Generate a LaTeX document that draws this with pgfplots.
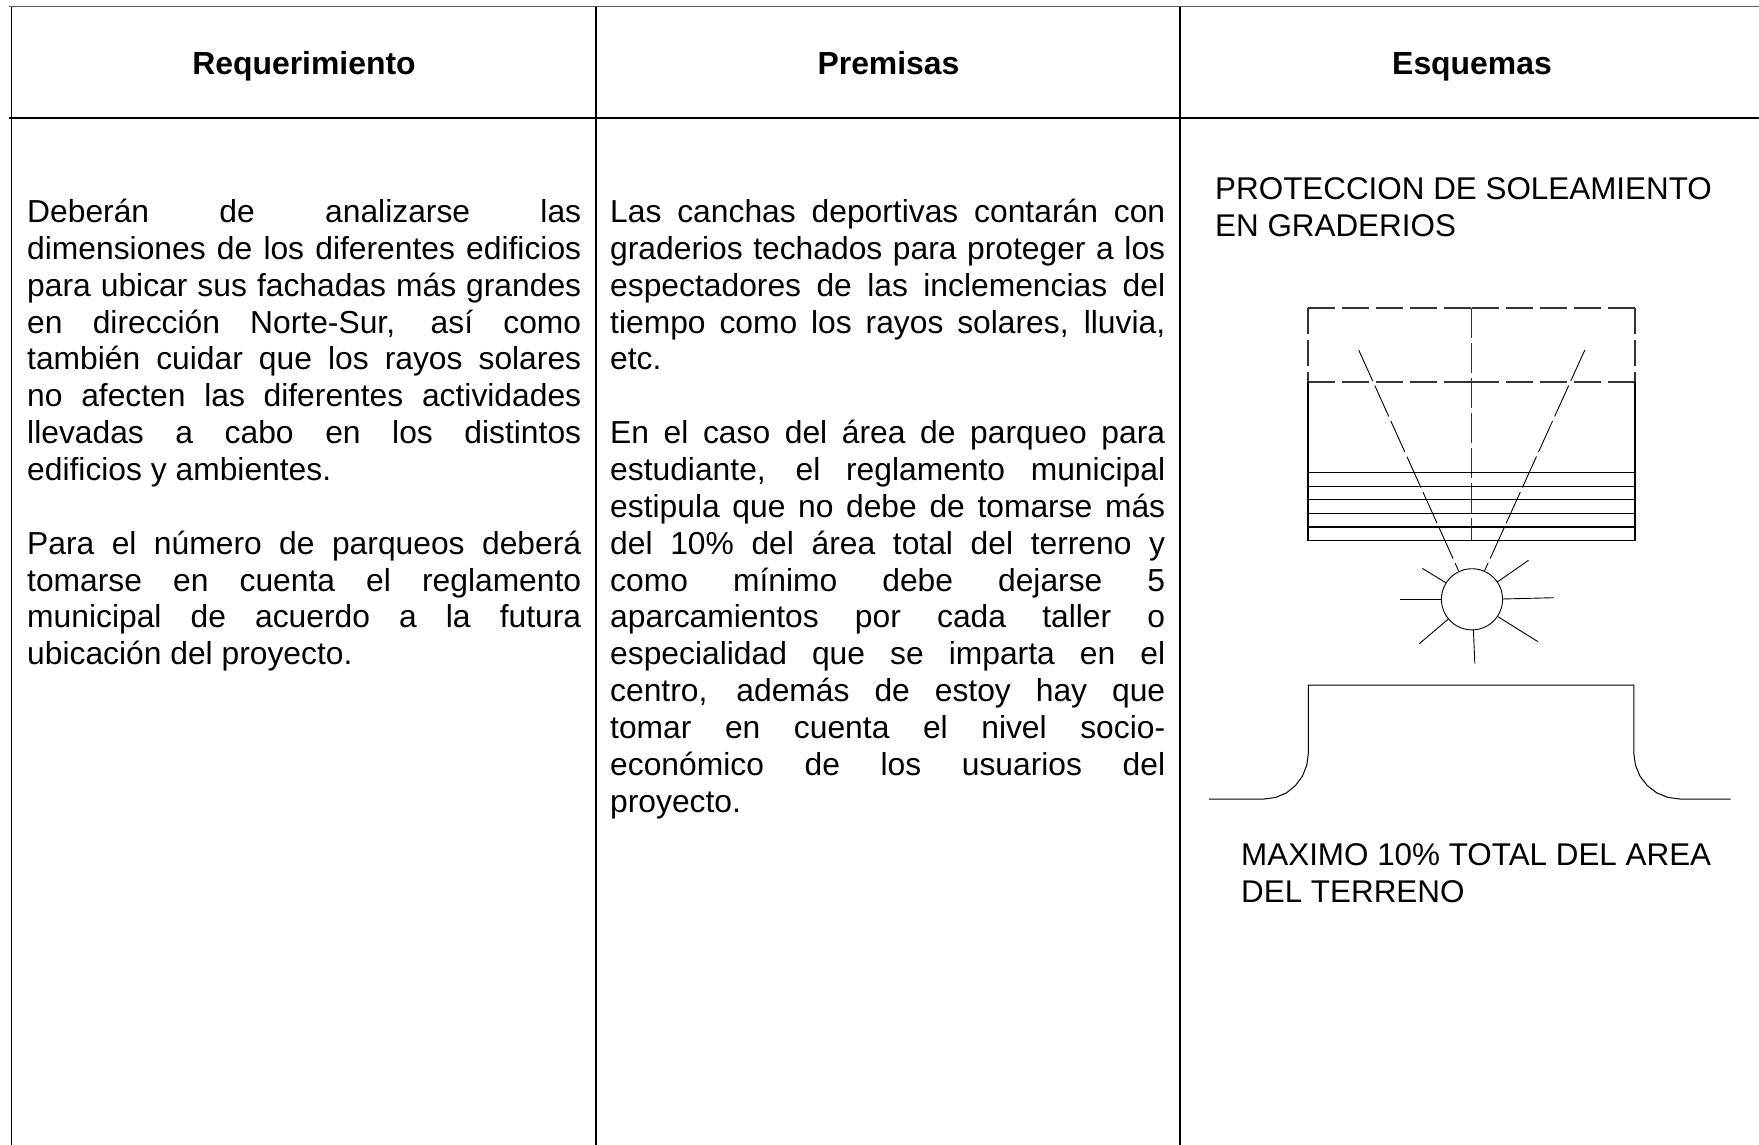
\documentclass[border=0pt]{standalone}
\usepackage{pgfplots}
\usepackage{fontspec}
\setmainfont{Liberation Sans}
\pgfplotsset{compat=1.18}
\newcommand{\fs}{\fontsize{31.8bp}{37bp}\selectfont}
\newcommand{\fc}{\fontsize{31.4bp}{37bp}\selectfont}
\newcommand{\fsb}{\fontsize{31.9bp}{37bp}\selectfont\bfseries}
\newcommand{\basey}{222.5}
\newcommand{\stepy}{36.85}
% justified line, column 1 / column 2
\newcommand{\ja}[2]{\pgfmathsetmacro{\yy}{\basey+\stepy*#1}\edef\tmp{\noexpand\node[anchor=base west,inner sep=0pt,font=\noexpand\fs] at (axis cs:27,\yy) {\noexpand\makebox[554bp][s]{#2}};}\tmp}
\newcommand{\jb}[2]{\pgfmathsetmacro{\yy}{\basey+\stepy*#1}\edef\tmp{\noexpand\node[anchor=base west,inner sep=0pt,font=\noexpand\fs] at (axis cs:610,\yy) {\noexpand\makebox[555bp][s]{#2}};}\tmp}
\newcommand{\pa}[2]{\pgfmathsetmacro{\yy}{\basey+\stepy*#1}\edef\tmp{\noexpand\node[anchor=base west,inner sep=0pt,font=\noexpand\fs] at (axis cs:27,\yy) {#2};}\tmp}
\newcommand{\pb}[2]{\pgfmathsetmacro{\yy}{\basey+\stepy*#1}\edef\tmp{\noexpand\node[anchor=base west,inner sep=0pt,font=\noexpand\fs] at (axis cs:610,\yy) {#2};}\tmp}
\begin{document}
\begin{tikzpicture}[x=1bp,y=1bp]
\useasboundingbox (0,0) rectangle (1759bp,1145bp);
\begin{axis}[at={(0,0)},anchor=south west,scale only axis,width=1759bp,height=1145bp,
  xmin=0,xmax=1759,ymin=0,ymax=1145,y dir=reverse,hide axis,clip=true]
% table rules
\addplot[black!65,line width=1.5bp] coordinates {(9,6.5)(1759,6.5)};
\addplot[black,line width=1.6bp] coordinates {(9,118.3)(1759,118.3)};
\addplot[black,line width=1.3bp] coordinates {(11.5,7)(11.5,1145)};
\addplot[black,line width=1.3bp] coordinates {(596,7)(596,1145)};
\addplot[black,line width=1.3bp] coordinates {(1180,7)(1180,1145)};
% dashed part of the diagram
\addplot[black!80,line width=1.2bp,dash pattern=on 27bp off 7bp] coordinates {(1308,308)(1471.6,308)};
\addplot[black!80,line width=1.2bp,dash pattern=on 27bp off 7bp] coordinates {(1471.6,308)(1635,308)};
\addplot[black!80,line width=1.2bp,dash pattern=on 27bp off 7bp] coordinates {(1308,382)(1471.6,382)};
\addplot[black!80,line width=1.2bp,dash pattern=on 27bp off 7bp] coordinates {(1471.6,382)(1635,382)};
\addplot[black!80,line width=1.1bp,dash pattern=on 26bp off 6bp] coordinates {(1308,308)(1308,382)};
\addplot[black!80,line width=1.1bp,dash pattern=on 26bp off 6bp] coordinates {(1635,308)(1635,382)};
\addplot[black!80,line width=1.2bp,dash pattern=on 30bp off 5bp] coordinates {(1471.6,308)(1471.6,540.3)};
\addplot[black,line width=.9bp,dash pattern=on 34bp off 5bp] coordinates {(1358.7,350)(1458.5,570.7)};
\addplot[black,line width=.9bp,dash pattern=on 34bp off 5bp] coordinates {(1584.8,350)(1484.6,570.7)};
% solid part of the diagram
\addplot[black,line width=1.1bp] coordinates {(1308,382)(1308,540.3)(1635,540.3)(1635,382)};
\addplot[black,line width=1.1bp] coordinates {(1308,472.3)(1635,472.3)};
\addplot[black,line width=1.2bp] coordinates {(1308,486.3)(1635,486.3)};
\addplot[black,line width=1.0bp] coordinates {(1308,499.3)(1635,499.3)};
\addplot[black,line width=1.0bp] coordinates {(1308,513.3)(1635,513.3)};
\addplot[black,line width=1.3bp] coordinates {(1308,527)(1635,527)};
% sun
\addplot[black,line width=.9bp,smooth,tension=.6] coordinates {
(1502.6,599.3)(1501.56,607.22)(1498.5,614.6)(1493.64,620.94)(1487.3,625.8)(1479.92,628.86)
(1472,629.9)(1464.08,628.86)(1456.7,625.8)(1450.36,620.94)(1445.5,614.6)(1442.44,607.22)
(1441.4,599.3)(1442.44,591.38)(1445.5,584)(1450.36,577.66)(1456.7,572.8)(1464.08,569.74)
(1472,568.7)(1479.92,569.74)(1487.3,572.8)(1493.64,577.66)(1498.5,584)(1501.56,591.38)(1502.6,599.3)};
\addplot[black,line width=.9bp] coordinates {(1422.2,568.3)(1445.8,582.7)};
\addplot[black,line width=.9bp] coordinates {(1528.5,560.3)(1497.3,582)};
\addplot[black,line width=.9bp] coordinates {(1400.1,599.7)(1441.5,599.7)};
\addplot[black,line width=.9bp] coordinates {(1553.9,597.7)(1502.4,599)};
\addplot[black,line width=.9bp] coordinates {(1419.3,643.7)(1448,619.3)};
\addplot[black,line width=.9bp] coordinates {(1538,641.7)(1498,616.7)};
\addplot[black,line width=.9bp] coordinates {(1473.4,630)(1474.8,663.3)};
% plot of land
\addplot[black,line width=1bp] coordinates {
(1208.9,799)(1264.4,799)(1275.8,797.4)(1286.4,792.9)(1295.4,785.6)(1302.4,776.2)(1306.8,765.1)(1308.3,753.3)
(1308.3,685)(1633.8,685)(1633.8,753.3)(1635.4,765.1)(1640,776.2)(1647.3,785.6)(1656.8,792.9)(1667.9,797.4)(1679.8,799)(1730.6,799)};
% headers
\node[anchor=base,font=\fsb] at (axis cs:304,74.5) {Requerimiento};
\node[anchor=base,font=\fsb] at (axis cs:888.5,74.5) {Premisas};
\node[anchor=base,font=\fsb] at (axis cs:1472,74.5) {Esquemas};
% column 1
\ja{0}{Deberán de analizarse las}
\ja{1}{dimensiones de los diferentes edificios}
\ja{2}{para ubicar sus fachadas más grandes}
\ja{3}{en dirección Norte-Sur, así como}
\ja{4}{también cuidar que los rayos solares}
\ja{5}{no afecten las diferentes actividades}
\ja{6}{llevadas a cabo en los distintos}
\pa{7}{edificios y ambientes.}
\ja{9}{Para el número de parqueos deberá}
\ja{10}{tomarse en cuenta el reglamento}
\ja{11}{municipal de acuerdo a la futura}
\pa{12}{ubicación del proyecto.}
% column 2
\jb{0}{Las canchas deportivas contarán con}
\jb{1}{graderios techados para proteger a los}
\jb{2}{espectadores de las inclemencias del}
\jb{3}{tiempo como los rayos solares, lluvia,}
\pb{4}{etc.}
\jb{6}{En el caso del área de parqueo para}
\jb{7}{estudiante, el reglamento municipal}
\jb{8}{estipula que no debe de tomarse más}
\jb{9}{del 10\% del área total del terreno y}
\jb{10}{como mínimo debe dejarse 5}
\jb{11}{aparcamientos por cada taller o}
\jb{12}{especialidad que se imparta en el}
\jb{13}{centro, además de estoy hay que}
\jb{14}{tomar en cuenta el nivel socio-}
\jb{15}{económico de los usuarios del}
\pb{16}{proyecto.}
% column 3
\node[anchor=base west,inner sep=0pt,font=\fc] at (axis cs:1215,199.5) {PROTECCION DE SOLEAMIENTO};
\node[anchor=base west,inner sep=0pt,font=\fc] at (axis cs:1215,236.5) {EN GRADERIOS};
\node[anchor=base west,inner sep=0pt,font=\fc] at (axis cs:1241,865) {MAXIMO 10\% TOTAL DEL AREA};
\node[anchor=base west,inner sep=0pt,font=\fc] at (axis cs:1241,902) {DEL TERRENO};
\end{axis}
\end{tikzpicture}
\end{document}
